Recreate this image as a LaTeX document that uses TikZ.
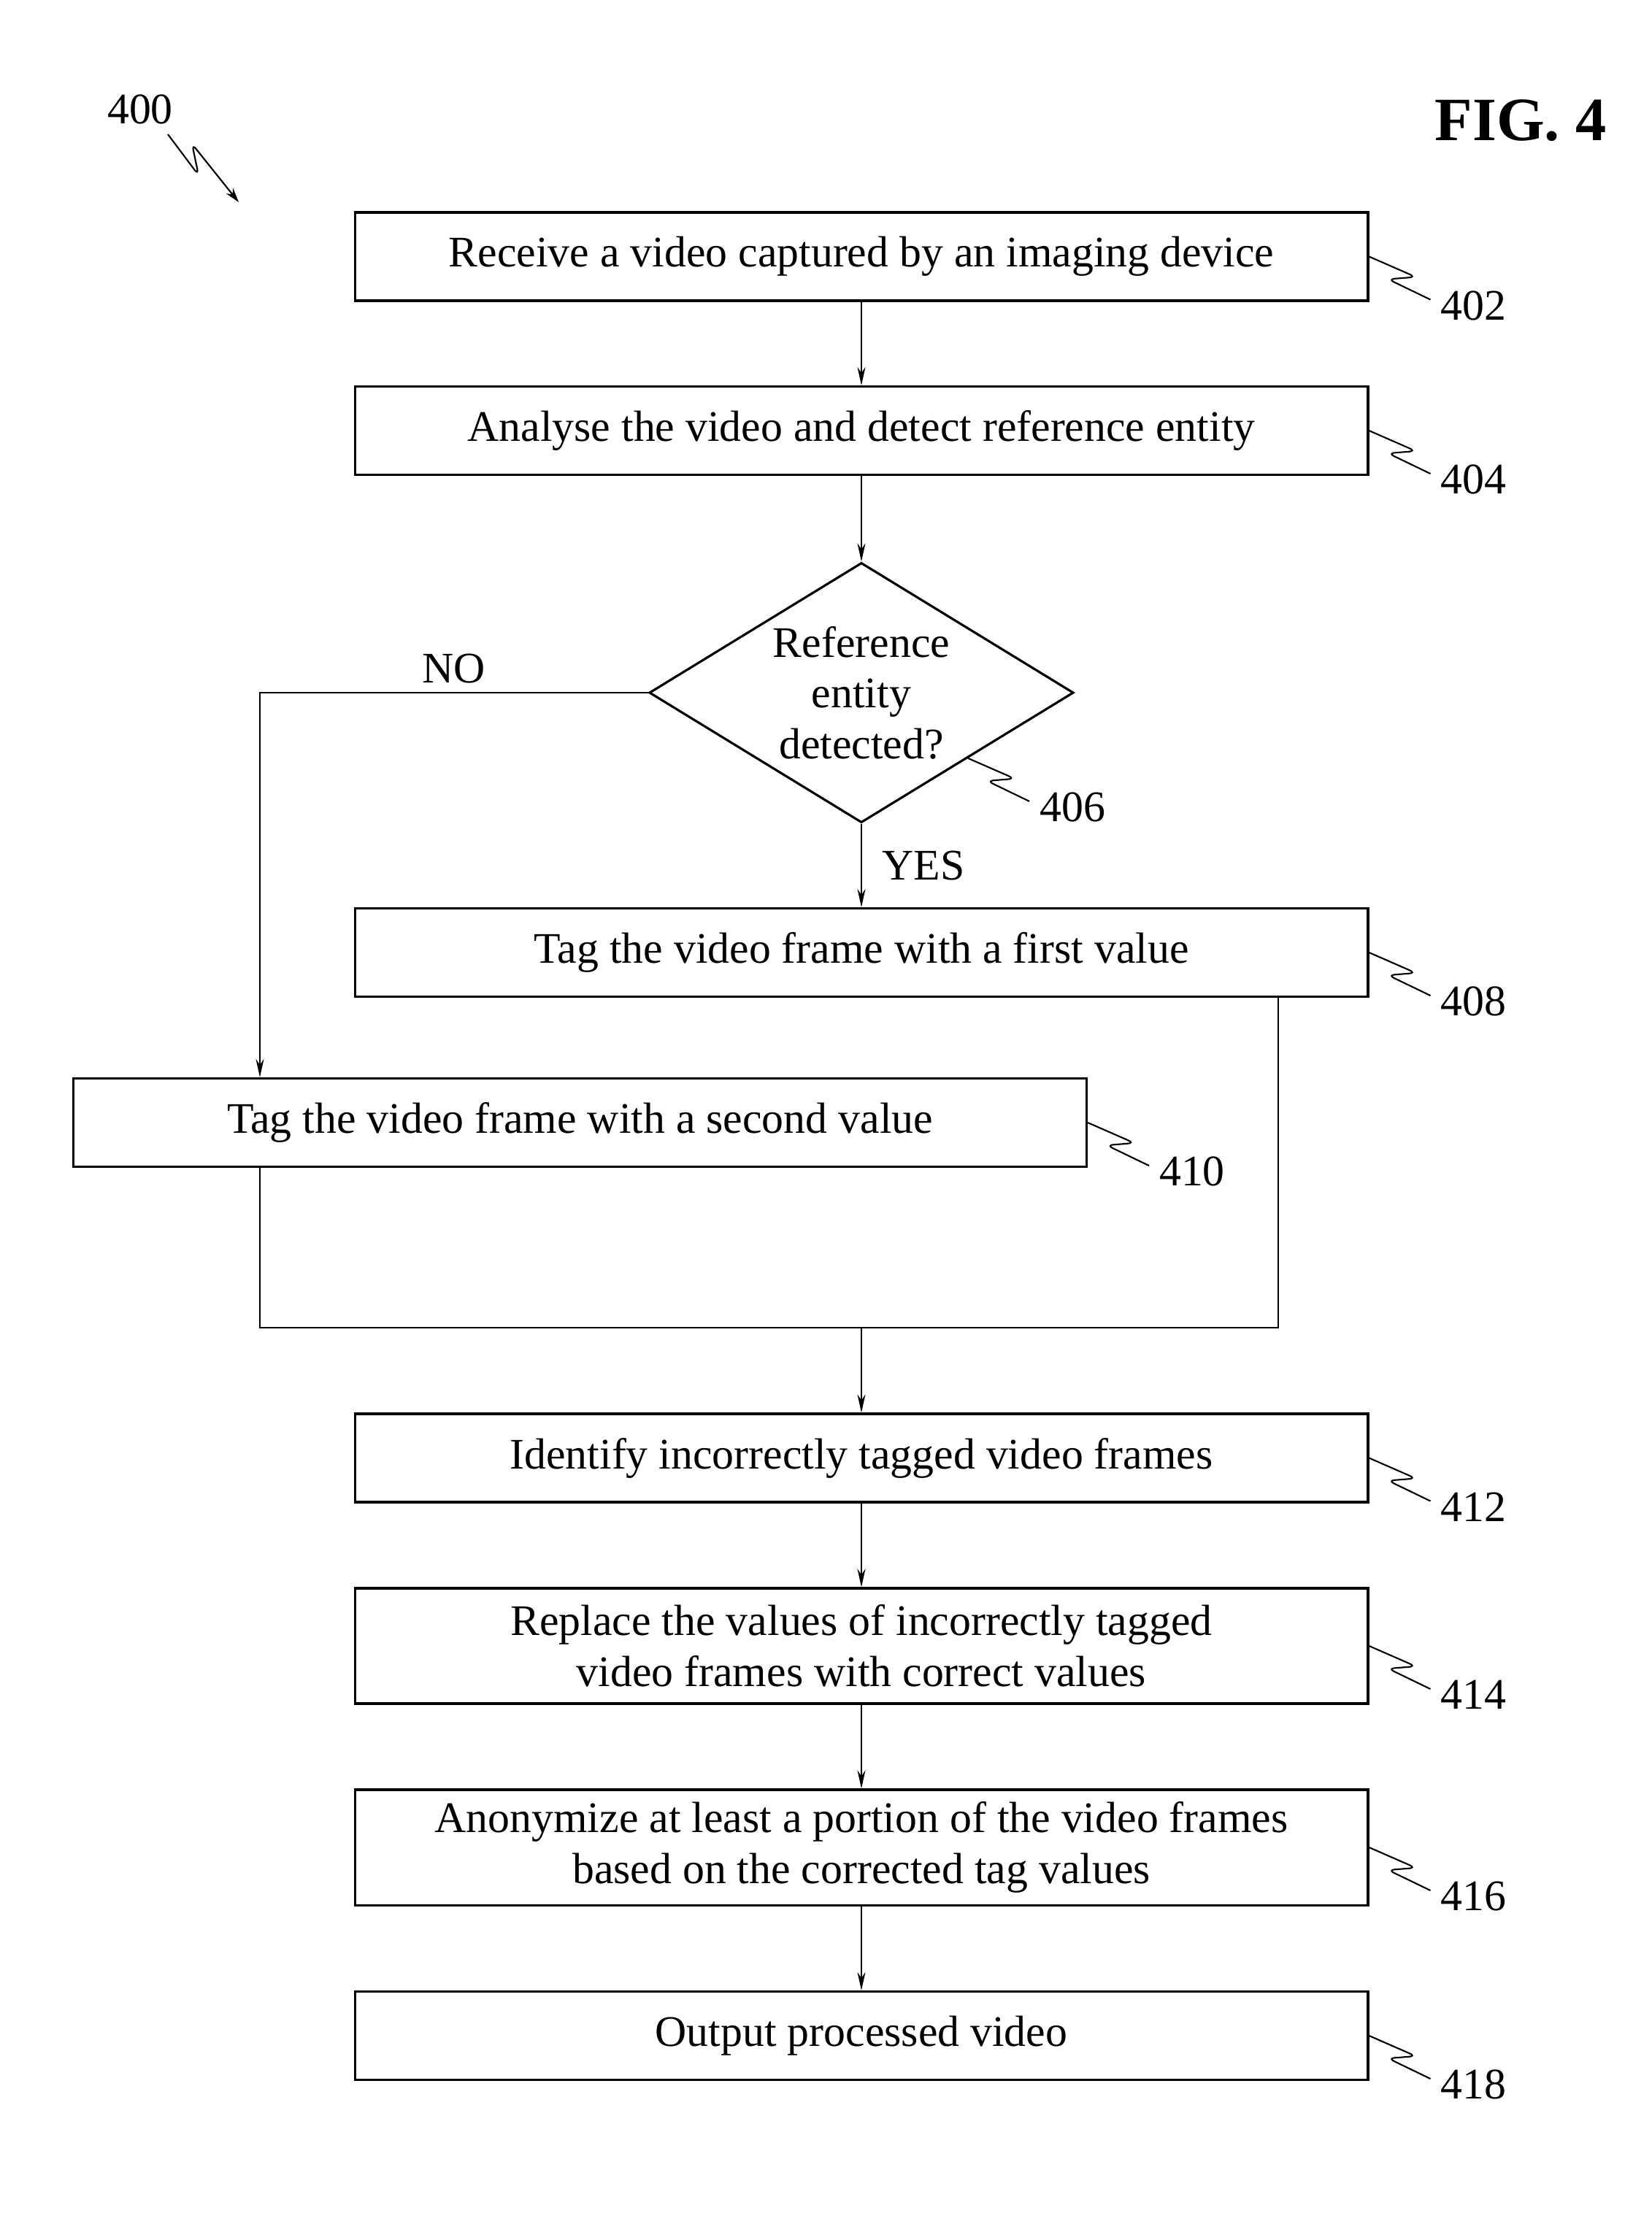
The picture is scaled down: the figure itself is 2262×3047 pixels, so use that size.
\documentclass[tikz,border=0pt]{standalone}
\usepackage{fontspec}
\setmainfont{Liberation Serif}
\usetikzlibrary{positioning, arrows.meta, shapes.geometric, calc}

\newcommand{\refzag}[3]{%
  \draw[leader] (#1) -- ++(64,28) -- ++(-38,3) -- ++(58,28);
  \node[reflabel] (#2) at ($(#1)+(143,67)$) {#3};}

\begin{document}
\begin{tikzpicture}[
      x=0.01cm, y=-0.01cm,
      every node/.style={font=\fontsize{17}{19.8}\selectfont},
      stepbox/.style={draw, line width=0.9pt, minimum width=13.87cm, minimum height=1.21cm, inner sep=0pt, align=center},
      tallbox/.style={stepbox, minimum height=1.58cm},
      decbox/.style={diamond, draw, line width=0.9pt, aspect=1.63, minimum width=5.81cm, minimum height=3.56cm, inner sep=0pt, align=center},
      flow/.style={->, line width=0.6pt},
      line/.style={line width=0.6pt},
      leader/.style={line width=0.6pt, rounded corners=2.5pt},
      reflabel/.style={inner sep=0pt},
      >={Stealth[length=2.5mm, width=1.1mm]},
    ]
    \useasboundingbox (0,0) rectangle (2262,3047);

    \node[reflabel] (n400) at (192,150) {400};
    \node[font=\bfseries\fontsize{24}{28}\selectfont] (fig) at (2083,165) {FIG. 4};

    \node[stepbox] (b402) at (1180,351.5) {Receive a video captured by an imaging device};
    \node[stepbox] (b404) at (1180,590) {Analyse the video and detect reference entity};
    \node[decbox] (dec) at (1180,949) {Reference\\entity\\detected?};
    \node[stepbox] (b408) at (1180,1305) {Tag the video frame with a first value};
    \node[stepbox] (b410) at (794.5,1538) {Tag the video frame with a second value};
    \node[stepbox] (b412) at (1180,1997.5) {Identify incorrectly tagged video frames};
    \node[tallbox] (b414) at (1180,2255) {Replace the values of incorrectly tagged\\video frames with correct values};
    \node[tallbox] (b416) at (1180,2531) {Anonymize at least a portion of the video frames\\based on the corrected tag values};
    \node[stepbox] (b418) at (1180,2789) {Output processed video};

    \coordinate (noturn) at (356,949);
    \coordinate (joinL) at (356,1819);
    \coordinate (joinR) at (1751,1819);
    \coordinate (join) at (1180,1819);

    \draw[flow] (b402) -- (b404);
    \draw[flow] (b404) -- (dec);
    \draw[flow] (dec) -- node[right=0.16cm] (yes) {YES} (b408);
    \draw[flow] (dec.west) -- node[above] (no) {NO} (noturn) -- (noturn |- b410.north);
    \draw[line] (b408.south -| joinR) -- (joinR) -- (joinL) -- (joinL |- b410.south);
    \draw[flow] (join) -- (b412);
    \draw[flow] (b412) -- (b414);
    \draw[flow] (b414) -- (b416);
    \draw[flow] (b416) -- (b418);

    \draw[leader, -{Stealth[length=2mm, width=1.2mm]}] ($(n400)+(38,34)$) -- ++(42,56) -- ++(-9,-43) -- ++(64,80);
    \refzag{b402.east}{n402}{402}
    \refzag{b404.east}{n404}{404}
    \refzag{dec.south east}{n406}{406}
    \refzag{b408.east}{n408}{408}
    \refzag{b410.east}{n410}{410}
    \refzag{b412.east}{n412}{412}
    \refzag{b414.east}{n414}{414}
    \refzag{b416.east}{n416}{416}
    \refzag{b418.east}{n418}{418}
  \end{tikzpicture}
\end{document}
